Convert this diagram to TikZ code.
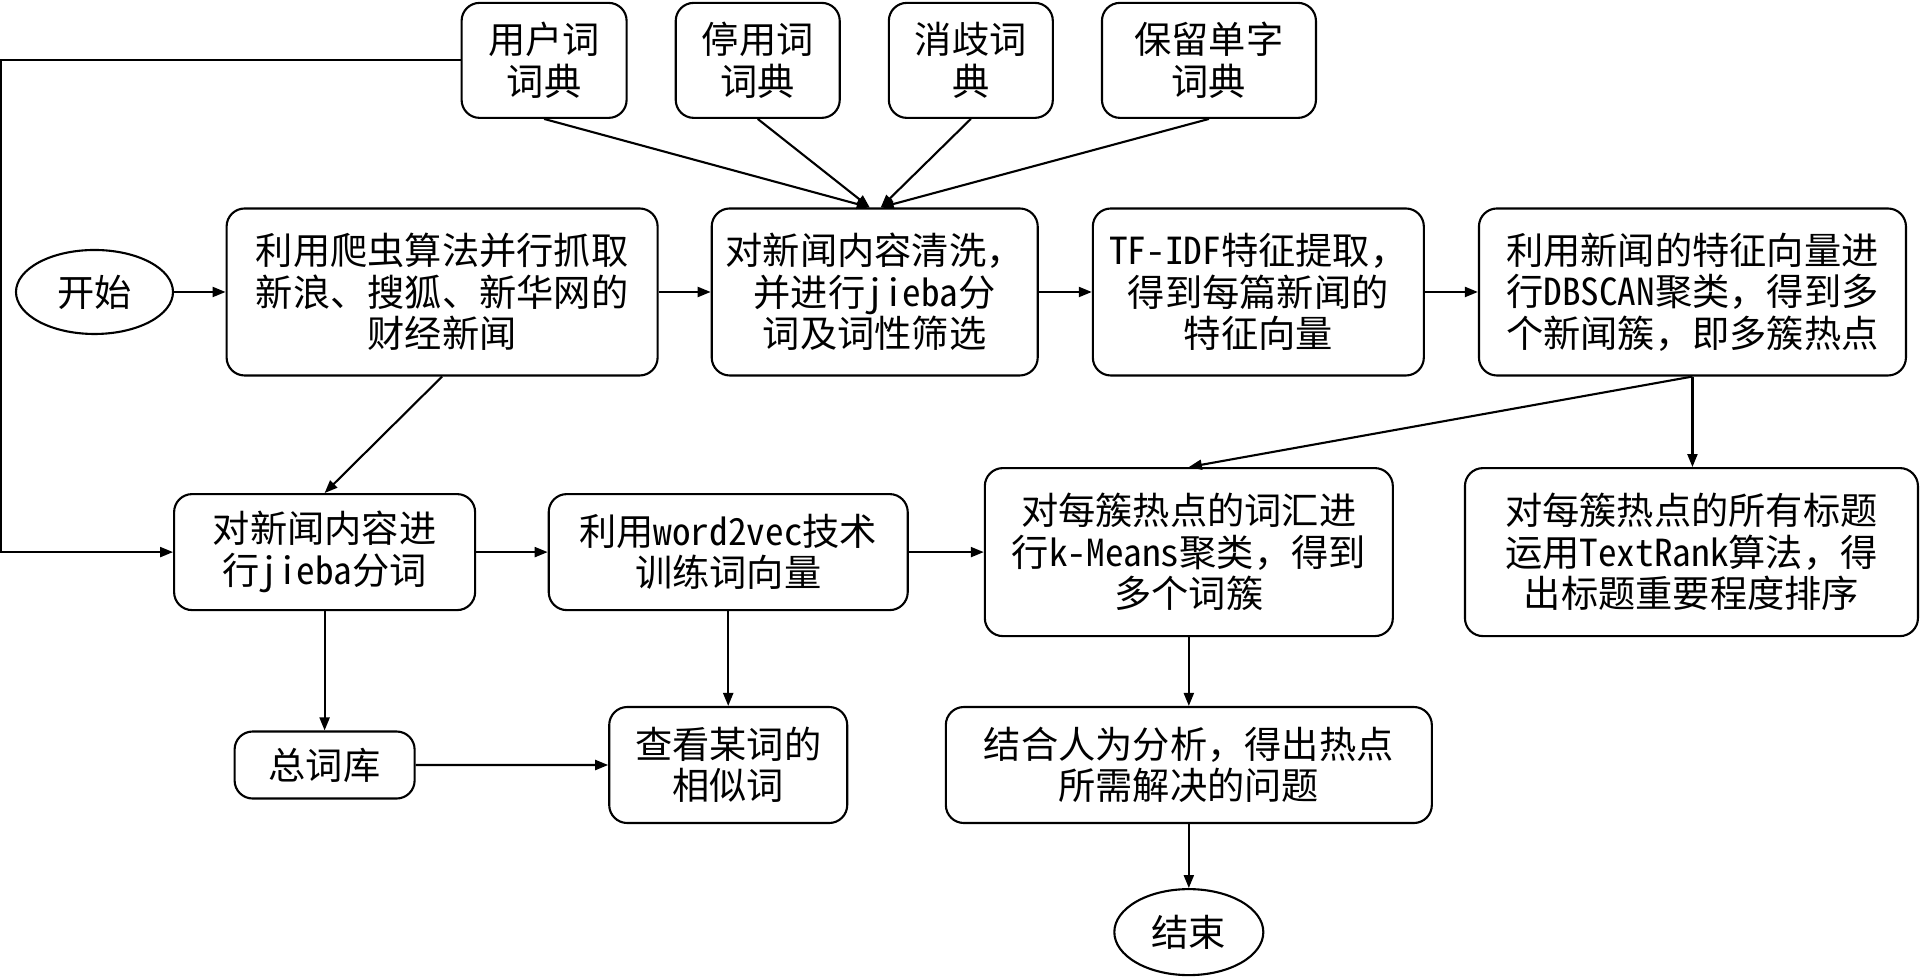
\documentclass[tikz,border=0pt]{standalone}
\usepackage{fontspec}
\setmainfont{Noto Sans CJK SC}
\newfontfamily\halfwfont[RawFeature=+hwid]{Noto Sans CJK SC}
\newcommand{\halfw}[1]{{\halfwfont #1}}
\usetikzlibrary{shapes.geometric,arrows.meta,positioning}
\definecolor{lineDark}{gray}{0.00}

\begin{document}
\begin{tikzpicture}[
      box/.style={draw=lineDark, line width=0.6pt, rounded corners=0.18cm, fill=white,
                  align=center, inner sep=2pt,
                  font=\fontsize{10.6pt}{11.8pt}\selectfont},
      term/.style={box, ellipse, inner sep=0pt},
      flow/.style={-{Triangle[length=0.13cm, width=0.1cm]}, line width=0.6pt, draw=lineDark}]

    \useasboundingbox (0,0) rectangle (19.2,-9.77);

    % main row
    \node[term, minimum width=1.57cm, minimum height=0.84cm] (st) at (0.945,-2.92) {开始};
    \node[box, right=0.515cm of st, minimum width=4.31cm, minimum height=1.67cm] (cr)
      {利用爬虫算法并行抓取\\新浪、搜狐、新华网的\\财经新闻};
    \node[box, right=0.52cm of cr, minimum width=3.26cm, minimum height=1.67cm] (cl)
      {对新闻内容清洗，\\并进行\halfw{jieba}分\\词及词性筛选};
    \node[box, right=0.53cm of cl, minimum width=3.31cm, minimum height=1.67cm] (tf)
      {\halfw{TF-IDF}特征提取，\\得到每篇新闻的\\特征向量};
    \node[box, right=0.53cm of tf, minimum width=4.27cm, minimum height=1.67cm] (db)
      {利用新闻的特征向量进\\行\halfw{DBSCAN}聚类，得到多\\个新闻簇，即多簇热点};

    % dictionaries
    \node[box, above=0.885cm of cr, xshift=1.02cm, minimum width=1.65cm, minimum height=1.15cm] (ud)
      {用户词\\词典};
    \node[box, right=0.47cm of ud, minimum width=1.64cm, minimum height=1.15cm] (sd)
      {停用词\\词典};
    \node[box, right=0.47cm of sd, minimum width=1.64cm, minimum height=1.15cm] (dd)
      {消歧词\\典};
    \node[box, right=0.47cm of dd, minimum width=2.14cm, minimum height=1.15cm] (kd)
      {保留单字\\词典};

    % third row
    \node[box, below=1.165cm of cr, xshift=-1.175cm, minimum width=3.01cm, minimum height=1.16cm] (jb)
      {对新闻内容进\\行\halfw{jieba}分词};
    \node[box, right=0.715cm of jb, minimum width=3.59cm, minimum height=1.16cm] (wv)
      {利用\halfw{word2vec}技术\\训练词向量};
    \node[box, right=0.75cm of wv, minimum width=4.08cm, minimum height=1.68cm] (kw)
      {对每簇热点的词汇进\\行\halfw{k-Means}聚类，得到\\多个词簇};
    \node[box, right=0.70cm of kw, minimum width=4.53cm, minimum height=1.68cm] (tr)
      {对每簇热点的所有标题\\运用\halfw{TextRank}算法，得\\出标题重要程度排序};

    % bottom
    \node[box, below=1.193cm of jb, minimum width=1.80cm, minimum height=0.67cm] (tw) {总词库};
    \node[box, below=0.948cm of wv, minimum width=2.38cm, minimum height=1.16cm] (sw)
      {查看某词的\\相似词};
    \node[box, below=0.688cm of kw, minimum width=4.86cm, minimum height=1.16cm] (hp)
      {结合人为分析，得出热点\\所需解决的问题};
    \node[term, below=0.64cm of hp, minimum width=1.49cm, minimum height=0.86cm] (en) {结束};

    \coordinate (rail) at (0.012,-0.6);

    \draw[flow] (st) -- (cr);
    \draw[flow] (cr) -- (cl);
    \draw[flow] (cl) -- (tf);
    \draw[flow] (tf) -- (db);
    \draw[flow] (ud.south) -- ([xshift=-0.05cm]cl.north);
    \draw[flow] (sd.south) -- ([xshift=-0.05cm]cl.north);
    \draw[flow] (dd.south) -- ([xshift=0.06cm]cl.north);
    \draw[flow] (kd.south) -- ([xshift=0.06cm]cl.north);
    \draw[flow] (ud.west) -- (ud.west -| rail) |- (jb.west);
    \draw[flow] (cr.south) -- (jb.north);
    \draw[flow] (jb) -- (wv);
    \draw[flow] (wv) -- (kw);
    \draw[flow] (db.south) -- (kw.north);
    \draw[flow] (db.south) -- (db.south |- tr.north);
    \draw[flow] (jb) -- (tw);
    \draw[flow] (wv) -- (sw);
    \draw[flow] (tw) -- (sw);
    \draw[flow] (kw) -- (hp);
    \draw[flow] (hp) -- (en);
  \end{tikzpicture}
\end{document}
